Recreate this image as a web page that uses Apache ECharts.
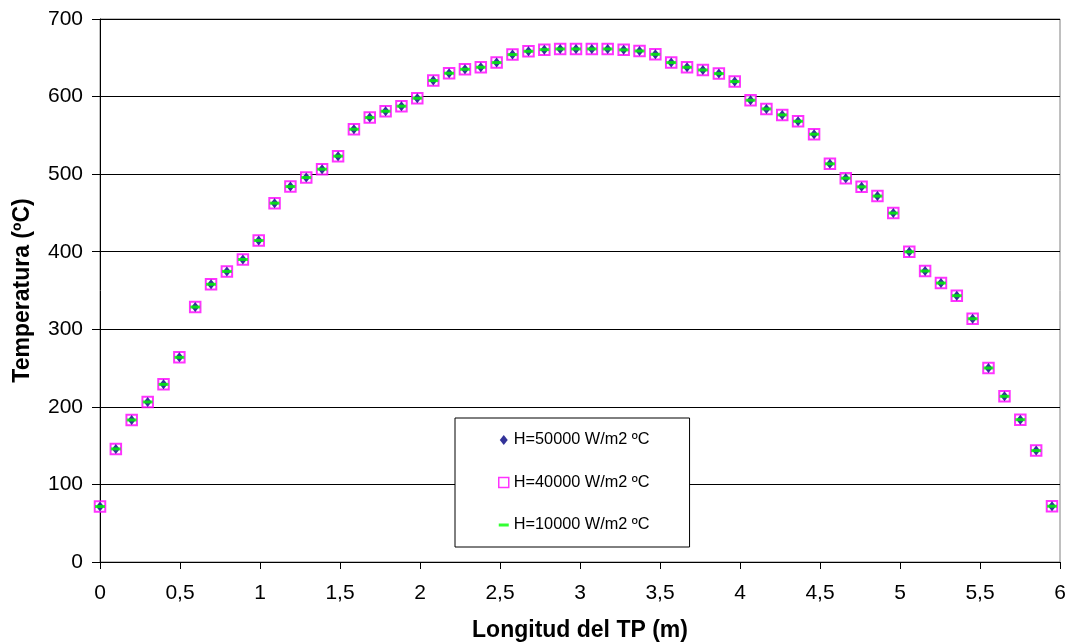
<!DOCTYPE html>
<html>
<head>
<meta charset="utf-8">
<script src="https://cdn.jsdelivr.net/npm/echarts@6/dist/echarts.min.js"></script>
<style>html,body{margin:0;padding:0;background:#fff;}#c{width:1071px;height:642px;}</style>
</head>
<body>
<div id="c"></div>
<script>
var seriesNames = ['H=50000 W/m2 ºC', 'H=40000 W/m2 ºC', 'H=10000 W/m2 ºC'];
var xTitle = 'Longitud del TP (m)';
var yTitle = 'Temperatura (ºC)';
var positions = [0, 0.099, 0.198, 0.298, 0.397, 0.496, 0.595, 0.694, 0.793, 0.893,
  0.992, 1.091, 1.190, 1.289, 1.388, 1.488, 1.587, 1.686, 1.785, 1.884,
  1.983, 2.083, 2.182, 2.281, 2.380, 2.479, 2.578, 2.678, 2.777, 2.876,
  2.975, 3.074, 3.173, 3.273, 3.372, 3.471, 3.570, 3.669, 3.768, 3.868,
  3.967, 4.066, 4.165, 4.264, 4.363, 4.463, 4.562, 4.661, 4.760, 4.859,
  4.958, 5.058, 5.157, 5.256, 5.355, 5.454, 5.553, 5.653, 5.752, 5.851, 5.950];
var tempH50000 = [71.5, 145.8, 183.1, 206.3, 229.0, 263.8, 328.7, 358.0, 374.6, 390.0,
  414.5, 462.6, 484.0, 495.6, 506.4, 523.2, 557.9, 572.9, 581.1, 587.6,
  597.9, 620.6, 630.1, 635.2, 637.8, 643.8, 654.1, 658.4, 660.5, 661.4,
  661.4, 661.4, 661.4, 660.2, 658.8, 654.5, 643.8, 637.8, 634.3, 629.6,
  619.3, 595.3, 584.1, 576.4, 568.2, 551.5, 513.3, 494.8, 483.6, 471.7,
  449.8, 399.9, 375.1, 359.6, 343.3, 313.6, 250.1, 213.6, 183.5, 143.6, 71.9];
var tempH40000 = [71.5, 145.8, 183.1, 206.3, 229.0, 263.8, 328.7, 358.0, 374.6, 390.0,
  414.5, 462.6, 484.0, 495.6, 506.4, 523.2, 557.9, 572.9, 581.1, 587.6,
  597.9, 620.6, 630.1, 635.2, 637.8, 643.8, 654.1, 658.4, 660.5, 661.4,
  661.4, 661.4, 661.4, 660.2, 658.8, 654.5, 643.8, 637.8, 634.3, 629.6,
  619.3, 595.3, 584.1, 576.4, 568.2, 551.5, 513.3, 494.8, 483.6, 471.7,
  449.8, 399.9, 375.1, 359.6, 343.3, 313.6, 250.1, 213.6, 183.5, 143.6, 71.9];
var tempH10000 = [71.5, 145.8, 183.1, 206.3, 229.0, 263.8, 328.7, 358.0, 374.6, 390.0,
  414.5, 462.6, 484.0, 495.6, 506.4, 523.2, 557.9, 572.9, 581.1, 587.6,
  597.9, 620.6, 630.1, 635.2, 637.8, 643.8, 654.1, 658.4, 660.5, 661.4,
  661.4, 661.4, 661.4, 660.2, 658.8, 654.5, 643.8, 637.8, 634.3, 629.6,
  619.3, 595.3, 584.1, 576.4, 568.2, 551.5, 513.3, 494.8, 483.6, 471.7,
  449.8, 399.9, 375.1, 359.6, 343.3, 313.6, 250.1, 213.6, 183.5, 143.6, 71.9];

function pairs(xs, ys) { return xs.map(function (x, i) { return [x, ys[i]]; }); }

var FONT = "'Liberation Sans', Arial, sans-serif";
var chart = echarts.init(document.getElementById('c'), null, { renderer: 'canvas' });
chart.setOption({
  animation: false,
  backgroundColor: '#fff',
  textStyle: { fontFamily: FONT },
  grid: { left: 100, right: 11, top: 19, bottom: 80, containLabel: false, outerBoundsMode: 'none',
    show: true, borderColor: '#808080', borderWidth: 1, backgroundColor: 'transparent' },
  legend: {
    orient: 'vertical', left: 455, top: 418,
    padding: [14, 40, 14, 43], itemGap: 26.5,
    itemWidth: 10, itemHeight: 10,
    backgroundColor: '#fff', borderColor: '#000', borderWidth: 1,
    textStyle: { fontSize: 16.3, color: '#000', fontFamily: FONT },
    selectedMode: false,
    data: [
      { name: seriesNames[0], icon: 'path://M4,0L8,5L4,10L0,5Z', itemStyle: { color: '#000080' } },
      { name: seriesNames[1], icon: 'rect', itemStyle: { color: '#fff', borderColor: '#FF00FF', borderWidth: 1.5 } },
      { name: seriesNames[2], icon: 'path://M0,0H10V3H0Z', itemStyle: { color: '#00FF00' } }
    ]
  },
  xAxis: {
    type: 'value', min: 0, max: 6, interval: 0.5,
    name: xTitle, nameLocation: 'middle', nameGap: 57,
    nameTextStyle: { fontSize: 23, fontWeight: 'bold', color: '#000', fontFamily: FONT },
    axisLine: { show: true, onZero: false, lineStyle: { color: '#000', width: 1 } },
    axisTick: { show: true, inside: false, length: 7, lineStyle: { color: '#000' } },
    axisLabel: { fontSize: 21, color: '#000', margin: 21, fontFamily: FONT,
      formatter: function (v) { return String(v).replace('.', ','); } },
    splitLine: { show: false }
  },
  yAxis: {
    type: 'value', min: 0, max: 700, interval: 100,
    name: yTitle, nameLocation: 'middle', nameGap: 66, nameRotate: 90,
    nameTextStyle: { fontSize: 23, fontWeight: 'bold', color: '#000', fontFamily: FONT },
    axisLine: { show: true, lineStyle: { color: '#000', width: 1 } },
    axisTick: { show: true, inside: false, length: 8, lineStyle: { color: '#000' } },
    axisLabel: { fontSize: 21, color: '#000', margin: 17, fontFamily: FONT },
    splitLine: { show: true, lineStyle: { color: '#000', width: 1 } }
  },
  series: [
    { name: seriesNames[0], type: 'scatter', z: 3, data: pairs(positions, tempH50000),
      symbol: 'diamond', symbolSize: [8, 10], itemStyle: { color: '#000080' }, emphasis: { disabled: true } },
    { name: seriesNames[1], type: 'scatter', z: 2, data: pairs(positions, tempH40000),
      symbol: 'rect', symbolSize: 10.5, itemStyle: { color: '#fff', borderColor: '#FF00FF', borderWidth: 2 }, emphasis: { disabled: true } },
    { name: seriesNames[2], type: 'scatter', z: 4, data: pairs(positions, tempH10000),
      symbol: 'rect', symbolSize: [10, 3], itemStyle: { color: '#00FF00' }, emphasis: { disabled: true } }
  ]
});
</script>
</body>
</html>
